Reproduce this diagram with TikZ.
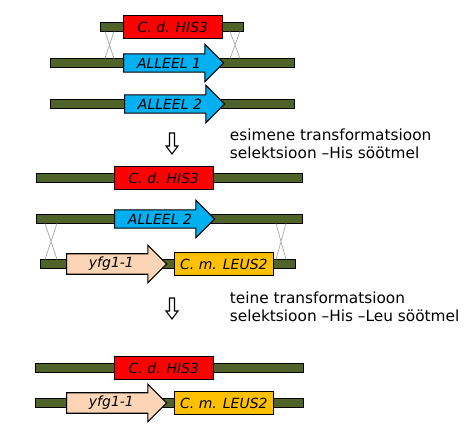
\documentclass[tikz,border=0pt]{standalone}
\usepackage{fontspec}
\setmainfont{DejaVu Sans}
\usetikzlibrary{shapes.arrows,positioning}

\definecolor{chromgreen}{HTML}{4F6228}
\definecolor{hisred}{HTML}{FF0000}
\definecolor{allelblue}{HTML}{00B0F0}
\definecolor{yfgpeach}{HTML}{FBD5B5}
\definecolor{leuorange}{HTML}{FFC000}

\begin{document}
\begin{tikzpicture}[x=0.75pt, y=-0.75pt, line width=0.8pt,
    bar/.style={draw, fill=chromgreen, rectangle, minimum height=6.5pt, inner sep=0pt, anchor=west},
    genebox/.style={draw, rectangle, minimum width=74pt, minimum height=17.25pt, inner sep=0pt, anchor=west, font=\itshape\fontsize{10.5}{12}\selectfont},
    genearrow/.style={draw, single arrow, single arrow head extend=4.5pt, minimum height=75pt, minimum width=28pt, inner sep=0pt, anchor=tail, font=\itshape\fontsize{10.5}{12}\selectfont},
    cross/.style={draw=gray!70, line width=0.5pt},
    stepdown/.style={draw, fill=white, line width=0.8pt, line join=miter},
    steptext/.style={anchor=west, align=left, font=\fontsize{11.5}{13.5}\selectfont}]
    \useasboundingbox (0,0) rectangle (473,448);
    % Transforming fragment and the two alleles
    \node[bar, minimum width=107.25pt] (frag) at (100,27) {};
    \node[genebox, fill=hisred] (his1) at (123,27) {C. d. HIS3};
    \node[bar, minimum width=183pt] (chrA) at (50,63) {};
    \node[genearrow, fill=allelblue] (all1) at (123,63) {ALLEEL 1};
    \node[bar, minimum width=183pt] (chrB) at (50,104) {};
    \node[genearrow, fill=allelblue] (all2) at (124,104) {ALLEEL 2};
    % Crossing over
    \draw[cross] (105,31.5) -- (114,58.5) (114,31.5) -- (105,58.5);
    \draw[cross] (230,31.5) -- (240,58.5) (240,31.5) -- (230,58.5);
    % First transformation
    \coordinate (down1) at (172,133);
    \draw[stepdown, shift={(down1)}] (-2.5,0) -- (2.5,0) -- (2.5,13) -- (6,13) -- (0,21) -- (-6,13) -- (-2.5,13) -- cycle;
    \node[steptext] (txt1) at (225,144) {esimene transformatsioon\\selektsioon --His söötmel};
    % After first step
    \node[bar, minimum width=199.5pt] (chrC) at (36,178) {};
    \node[genebox, fill=hisred] (his2) at (114,178) {C. d. HIS3};
    \node[bar, minimum width=199.5pt] (chrD) at (36,219) {};
    \node[genearrow, fill=allelblue] (all3) at (114,219) {ALLEEL 2};
    \node[bar, minimum width=191.25pt] (frag2) at (40,264) {};
    \node[genearrow, fill=yfgpeach] (yfg1) at (66,264) {yfg1-1};
    \node[genebox, fill=leuorange] (leu1) at (174,264) {C. m. LEUS2};
    % Crossing over
    \draw[cross] (45,223.5) -- (57,259.5) (57,223.5) -- (45,259.5);
    \draw[cross] (276,223.5) -- (286,259.5) (286,223.5) -- (276,259.5);
    % Second transformation
    \coordinate (down2) at (172,298);
    \draw[stepdown, shift={(down2)}] (-2.5,0) -- (2.5,0) -- (2.5,13) -- (6,13) -- (0,21) -- (-6,13) -- (-2.5,13) -- cycle;
    \node[steptext] (txt2) at (225,307) {teine transformatsioon\\selektsioon --His --Leu söötmel};
    % Final strain
    \node[bar, minimum width=201pt] (chrE) at (35,368) {};
    \node[genebox, fill=hisred] (his3) at (114,368) {C. d. HIS3};
    \node[bar, minimum width=201pt] (chrF) at (35,403) {};
    \node[genearrow, fill=yfgpeach] (yfg2) at (66,403) {yfg1-1};
    \node[genebox, fill=leuorange] (leu2) at (174,403) {C. m. LEUS2};
\end{tikzpicture}
\end{document}
